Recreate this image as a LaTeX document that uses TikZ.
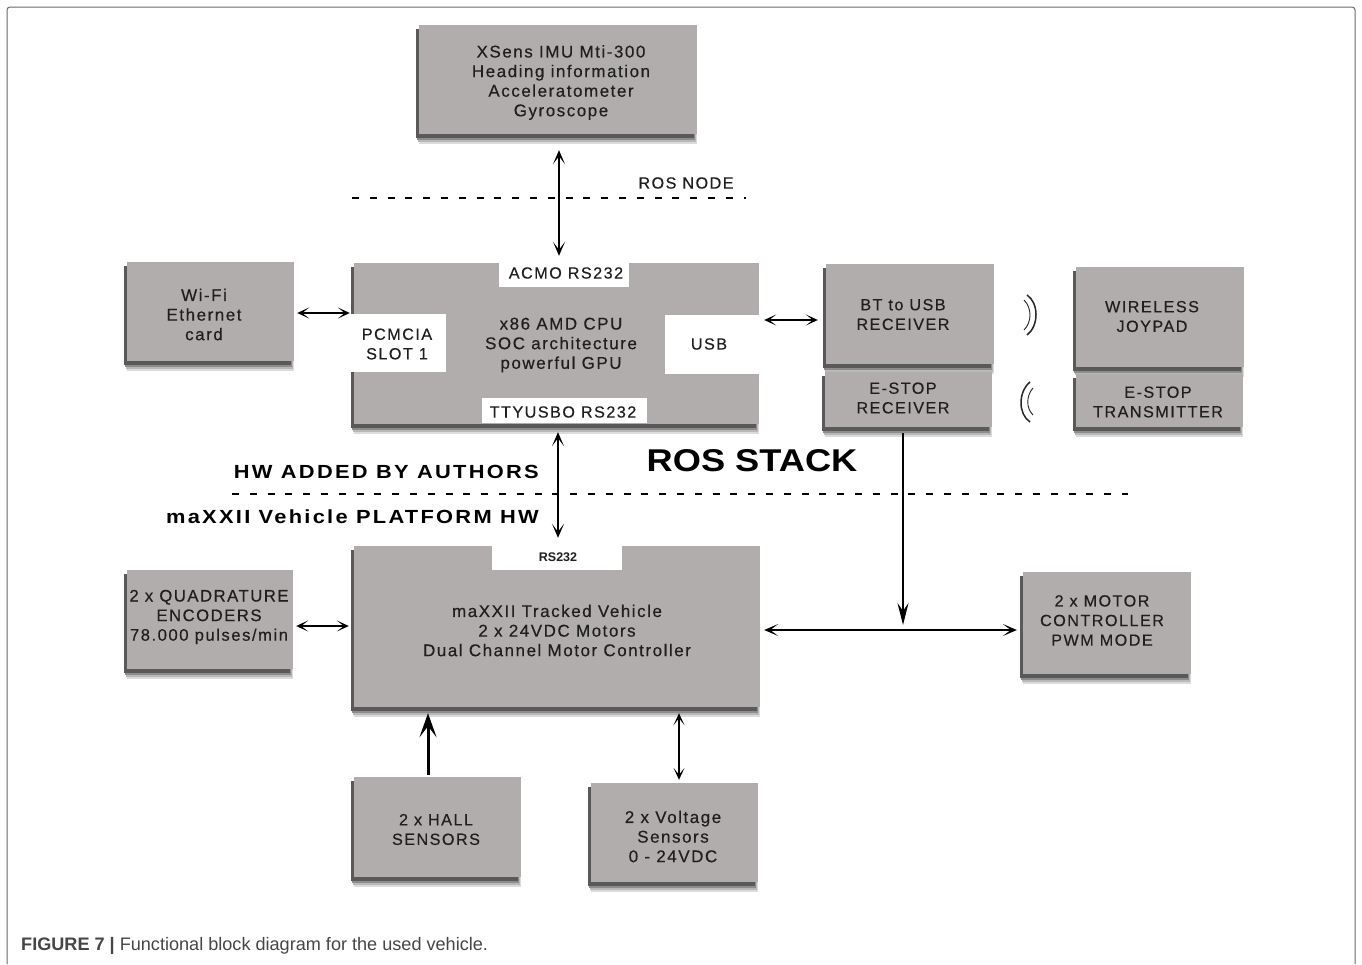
\documentclass[tikz,border=0pt]{standalone}
\usepackage{fontspec}
\setmainfont{Liberation Sans}
\newfontfamily\trackfont[LetterSpace=9,FakeBold=0.35]{Liberation Sans}
\newfontfamily\widebold[LetterSpace=12,FakeStretch=1.15]{Liberation Sans Bold}
\newfontfamily\stackbold[LetterSpace=0,FakeStretch=1.15]{Liberation Sans Bold}
\usetikzlibrary{arrows.meta,shadows,calc}
\definecolor{boxgray}{RGB}{177,173,173}
\definecolor{framegray}{RGB}{105,105,105}
\definecolor{captext}{RGB}{70,70,70}
\tikzset{
  blk/.style={fill=boxgray,draw=none,inner sep=0pt,
    general shadow={shadow xshift=0pt,shadow yshift=-10pt,fill=black!14},
    general shadow={shadow xshift=-1pt,shadow yshift=-8pt,fill=black!28},
    general shadow={shadow xshift=-2pt,shadow yshift=-6pt,fill=black!45},
    general shadow={shadow xshift=-3pt,shadow yshift=-4pt,fill=black!65}},
  patch/.style={fill=white,draw=none,inner sep=0pt},
  lbl/.style={font=\fontsize{16.2}{19.6}\selectfont\trackfont,align=center,text=black!88,inner sep=0pt},
  lblw/.style={lbl,font=\fontsize{17}{19.6}\selectfont\trackfont},
  lblm/.style={lbl,font=\fontsize{16.7}{19.6}\selectfont\trackfont},
  head/.style={font=\fontsize{19}{22}\selectfont\widebold,text=black,inner sep=0pt,anchor=east},
  conn/.style={line width=1.3pt,{Stealth[length=14pt,width=12pt,inset=8pt]}-{Stealth[length=14pt,width=12pt,inset=8pt]}},
  sconn/.style={line width=1.1pt,{Stealth[length=12pt,width=11pt,inset=7pt]}-{Stealth[length=12pt,width=11pt,inset=7pt]}},
  divider/.style={line width=1.2pt,dash pattern=on 7pt off 10.8pt},
  wave/.style={line width=0.9pt,black!85}
}
\newcommand{\plc}[6][patch]{%
  \pgfmathsetmacro{\bw}{#5-#3}\pgfmathsetmacro{\bh}{#6-#4}%
  \pgfmathsetmacro{\bx}{(#3+#5)/2}\pgfmathsetmacro{\by}{(#4+#6)/2}%
  \node[#1,minimum width=\bw pt,minimum height=\bh pt] (#2) at (\bx,\by) {};}
\newcommand{\blk}[5]{%
  \pgfmathsetmacro{\lx}{#2+2}\pgfmathsetmacro{\ly}{#5-3}%
  \plc[blk]{#1}{\lx}{#3}{#4}{\ly}}
\begin{document}
\begin{tikzpicture}[x=1pt,y=-1pt]
\useasboundingbox (0,0) rectangle (1362,964);
\fill[white] (0,0) rectangle (1362,964);
\draw[framegray,line width=1pt,rounded corners=3pt] (7,964) -- (7,7) -- (1355,7) -- (1355,964);

\blk{xsens}{417}{25}{697}{137}
\blk{wifi}{125}{262}{294}{364}
\blk{cpu}{352}{263}{759}{427}
\blk{bt}{824}{264}{994}{367}
\blk{erx}{823}{372}{992}{430}
\blk{pad}{1074}{267}{1244}{370}
\blk{etx}{1074}{374}{1243}{430}
\blk{veh}{352}{546}{760}{710}
\blk{enc}{125}{570}{293}{672}
\blk{mot}{1021}{572}{1191}{677}
\blk{hall}{352}{777}{521}{880}
\blk{volt}{589}{783}{758}{885}

\plc{acmo}{499}{262}{629}{287}
\plc{pcm}{351}{314}{446}{372}
\plc{usb}{665}{315}{759}{374}
\plc{tty}{482}{398}{647}{423}
\plc{rs}{492}{546}{622}{570}

\node[lblw] (txsens) at (561,82.5) {XSens IMU Mti-300\\Heading information\\Acceleratometer\\Gyroscope};
\node[lblw] (twifi) at (204,314.5) {Wi-Fi\\Ethernet\\card};
\node[lblw] (tcpu) at (561,345) {x86 AMD CPU\\SOC architecture\\powerful GPU};
\node[lbl] (tacmo) at (566,273) {ACMO RS232};
\node[lbl] (tpcm) at (397,344) {PCMCIA\\SLOT 1};
\node[lbl] (tusb) at (709,344) {USB};
\node[lbl] (ttty) at (563,412) {TTYUSBO RS232};
\node[lbl] (tbt) at (903,314.5) {BT to USB\\RECEIVER};
\node[lbl] (terx) at (903,398) {E-STOP\\RECEIVER};
\node[lbl] (tpad) at (1152,316.5) {WIRELESS\\JOYPAD};
\node[lbl] (tetx) at (1158,402) {E-STOP\\TRANSMITTER};
\node[lbl,font=\fontsize{12.5}{14}\selectfont\bfseries] (trs) at (558,557) {RS232};
\node[lblw] (tveh) at (557,630.5) {maXXII Tracked Vehicle\\2 x 24VDC Motors\\Dual Channel Motor Controller};
\node[lblm] (tenc) at (209,617) {2 x QUADRATURE\\ENCODERS\\78.000 pulses/min};
\node[lbl] (tmot) at (1102,620.5) {2 x MOTOR\\CONTROLLER\\PWM MODE};
\node[lbl] (thall) at (436,829.5) {2 x HALL\\SENSORS};
\node[lblw] (tvolt) at (673,836.5) {2 x Voltage\\Sensors\\0 - 24VDC};

\node[lbl] (rosnode) at (686,183) {ROS NODE};
\node[head,font=\fontsize{31.5}{36}\selectfont\stackbold,anchor=center] (stack) at (752,461) {ROS STACK};
\node[head] (added) at (539,472) {HW ADDED BY AUTHORS};
\node[head] (plat) at (539,517) {maXXII Vehicle PLATFORM HW};

\coordinate (d1a) at (352,198); \coordinate (d1b) at (746,198);
\coordinate (d2a) at (232,494); \coordinate (d2b) at (1128,494);
\draw[divider] (d1a) -- (d1b);
\draw[divider] (d2a) -- (d2b);

\draw[conn,shorten <=16pt,shorten >=7pt] ([xshift=1pt]xsens.south) -- ([xshift=2.5pt]cpu.north);
\draw[sconn,shorten <=3pt,shorten >=4pt] (wifi.east |- 0,313) -- (cpu.west |- 0,313);
\draw[sconn,shorten <=8pt,shorten >=5pt] (bt.west |- 0,320) -- (cpu.east |- 0,320);
\draw[conn,shorten <=8pt,shorten >=8pt] ([xshift=1.5pt]cpu.south) -- ([xshift=1pt]veh.north);
\draw[sconn,shorten <=3pt,shorten >=5pt] (enc.east |- 0,626) -- (veh.west |- 0,626);
\coordinate (tee) at (903,630);
\draw[conn,shorten <=4pt,shorten >=6pt] (veh.east |- tee) -- (mot.west |- tee);
\draw[line width=1.6pt,-{Stealth[length=22pt,width=11pt,inset=8pt]},shorten <=6pt,shorten >=5pt] (erx.south -| tee) -- (tee);
\draw[line width=3pt,-{Stealth[length=24pt,width=17pt,inset=11pt]},shorten <=2pt,shorten >=6pt] (hall.north -| 428,0) -- (veh.south -| 428,0);
\draw[sconn,line width=1.3pt,shorten <=3pt,shorten >=6pt] (volt.north -| 679,0) -- (veh.south -| 679,0);

\draw[wave,line width=1.5pt] (1027,295) .. controls (1039,303) and (1039,326) .. (1027,335);
\draw[wave] (1024,300) .. controls (1032,308) and (1032,322) .. (1024,330);
\draw[wave,line width=1.5pt] (1030,382) .. controls (1018,392) and (1018,414) .. (1030,422);
\draw[wave] (1033,388) .. controls (1026,396) and (1026,408) .. (1033,415);

\node[anchor=base west,inner sep=0pt,text=captext,font=\fontsize{18.1}{20}\selectfont] (cap) at (21,950) {\textbf{FIGURE 7 |} Functional block diagram for the used vehicle.};
\end{tikzpicture}
\end{document}
